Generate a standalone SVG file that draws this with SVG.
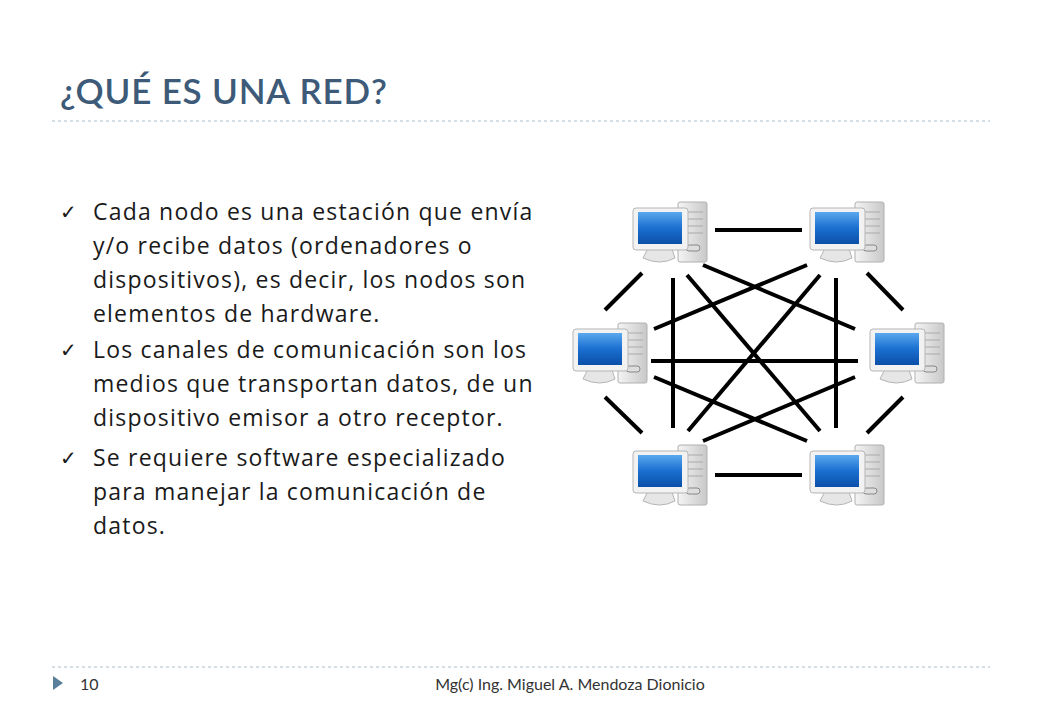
<svg xmlns="http://www.w3.org/2000/svg" width="1040" height="720" viewBox="0 0 1040 720">
<style>
.t{font-family:"Open Sans","Liberation Sans",sans-serif;fill:#1a1a1a;font-size:23px;letter-spacing:1.2px}
.c{stroke:#000;stroke-width:4;fill:none}
.ck{font-family:"DejaVu Sans",sans-serif;font-size:20px;font-weight:bold;fill:#1a1a1a}
</style>
<defs>
<linearGradient id="scr" x1="0" y1="0" x2="0" y2="1"><stop offset="0" stop-color="#5aa8ee"/><stop offset="0.5" stop-color="#1a6fd0"/><stop offset="1" stop-color="#0b4fa8"/></linearGradient>
<linearGradient id="gr" x1="0" y1="0" x2="1" y2="0"><stop offset="0" stop-color="#f4f4f4"/><stop offset="1" stop-color="#c8c8c8"/></linearGradient>
<g id="pc">
<rect x="45" y="0" width="29" height="60" rx="2" fill="url(#gr)" stroke="#b0b0b0"/>
<line x1="50" y1="10" x2="70" y2="10" stroke="#aaa"/><line x1="50" y1="17" x2="70" y2="17" stroke="#aaa"/><line x1="50" y1="24" x2="70" y2="24" stroke="#aaa"/><line x1="50" y1="31" x2="70" y2="31" stroke="#aaa"/>
<rect x="53" y="43" width="14" height="6" rx="3" fill="#ddd" stroke="#888"/>
<path d="M16 44 L38 44 L42 56 Q27 64 10 56 Z" fill="#e6e6e6" stroke="#b5b5b5"/>
<rect x="0" y="6" width="55" height="42" rx="3" fill="#f2f2f2" stroke="#b5b5b5"/>
<rect x="5" y="10" width="44" height="32" fill="url(#scr)"/>
</g>
</defs>
<rect width="1040" height="720" fill="#fff"/>
<text x="60" y="104" font-family="Lato,'Liberation Sans',sans-serif" font-size="35" font-weight="600" letter-spacing="0.8" fill="#3d5a78">¿QUÉ ES UNA RED?</text>
<line x1="52" y1="121" x2="990" y2="121" stroke="#a9c0cc" stroke-dasharray="3,3"/>
<line x1="52" y1="667" x2="990" y2="667" stroke="#a9c0cc" stroke-dasharray="3,3"/>
<g id="text">
<text class="ck" x="60" y="219">✓</text><text class="ck" x="60" y="357">✓</text><text class="ck" x="60" y="465">✓</text>
<text class="t" x="93" y="220">Cada nodo es una estación que envía</text>
<text class="t" x="93" y="254">y/o recibe datos (ordenadores o</text>
<text class="t" x="93" y="288">dispositivos), es decir, los nodos son</text>
<text class="t" x="93" y="322">elementos de hardware.</text>
<text class="t" x="93" y="358">Los canales de comunicación son los</text>
<text class="t" x="93" y="392">medios que transportan datos, de un</text>
<text class="t" x="93" y="426">dispositivo emisor a otro receptor.</text>
<text class="t" x="93" y="466">Se requiere software especializado</text>
<text class="t" x="93" y="500">para manejar la comunicación de</text>
<text class="t" x="93" y="534">datos.</text>
</g>
<g id="connectors">
<line class="c" x1="715" y1="230" x2="802" y2="230"/>
<line class="c" x1="715" y1="475" x2="802" y2="475"/>
<line class="c" x1="642" y1="273" x2="605" y2="310"/>
<line class="c" x1="867" y1="273" x2="903" y2="310"/>
<line class="c" x1="605" y1="397" x2="642" y2="433"/>
<line class="c" x1="903" y1="397" x2="867" y2="433"/>
<line class="c" x1="673" y1="278" x2="673" y2="428"/>
<line class="c" x1="836" y1="278" x2="836" y2="428"/>
<line class="c" x1="651" y1="361" x2="858" y2="361"/>
<line class="c" x1="703" y1="265" x2="855" y2="329"/>
<line class="c" x1="807" y1="265" x2="654" y2="329"/>
<line class="c" x1="687" y1="275" x2="820" y2="431"/>
<line class="c" x1="820" y1="275" x2="688" y2="431"/>
<line class="c" x1="654" y1="377" x2="807" y2="441"/>
<line class="c" x1="855" y1="377" x2="703" y2="441"/>
</g>
<g id="n1"><use href="#pc" x="633" y="202"/></g>
<g id="n2"><use href="#pc" x="810" y="202"/></g>
<g id="n3"><use href="#pc" x="573" y="323"/></g>
<g id="n4"><use href="#pc" x="870" y="323"/></g>
<g id="n5"><use href="#pc" x="633" y="445"/></g>
<g id="n6"><use href="#pc" x="810" y="445"/></g>
<g id="footer">
<polygon points="53,676 63,683 53,690" fill="#5a7f9a"/>
<text x="80" y="690" font-family="Lato,'Liberation Sans',sans-serif" font-size="16" fill="#333">10</text>
<text x="570" y="690" text-anchor="middle" font-family="Lato,'Liberation Sans',sans-serif" font-size="16" fill="#333">Mg(c) Ing. Miguel A. Mendoza Dionicio</text>
</g>
</svg>
